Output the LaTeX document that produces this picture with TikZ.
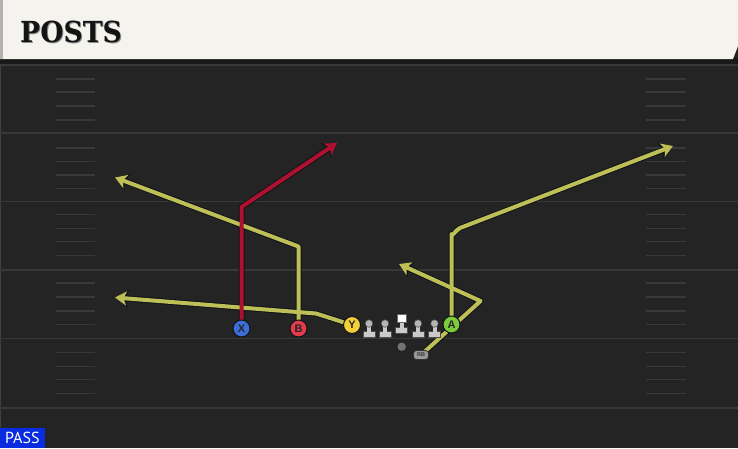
\documentclass[tikz,border=0pt]{standalone}
\usepackage{fontspec}
\setmainfont{Liberation Sans}
\newfontfamily\hdrfont{DejaVu Serif}
\newfontfamily\passfont{PT Sans}
\usetikzlibrary{arrows.meta}
\definecolor{field}{HTML}{242424}
\definecolor{yline}{HTML}{383838}
\definecolor{hashc}{HTML}{393939}
\definecolor{cream}{HTML}{F5F3EE}
\definecolor{routeY}{HTML}{BFBF57}
\definecolor{routeR}{HTML}{AE1030}
\definecolor{outl}{HTML}{101418}
\definecolor{pblue}{HTML}{3C6ED6}
\definecolor{pred}{HTML}{E23B4B}
\definecolor{pyel}{HTML}{F4D038}
\definecolor{pgreen}{HTML}{7BCB3C}
\definecolor{lmgrey}{HTML}{CACACA}
\definecolor{lmhead}{HTML}{B4B4B4}
\definecolor{passblue}{HTML}{0A2CE0}
\tikzset{
  hashmark/.style={draw=hashc, line width=1.4pt},
  yardline/.style={draw=yline, line width=1.8pt},
  routeunder/.style={draw=outl, line width=6pt, line join=round, -{Stealth[length=13.5pt,width=17pt,inset=3.5pt]}},
  routetop/.style={draw=#1, line width=4pt, line join=round, -{Stealth[length=11.5pt,width=14pt,inset=3pt]}},
  player/.style={circle, draw=outl, line width=1pt, fill=#1, minimum size=17pt, inner sep=0pt, font=\bfseries\fontsize{11}{11}\selectfont, text=black!85},
  rbtag/.style={draw=black!80, line width=0.8pt, fill=black!40, rounded corners=3pt, minimum width=15pt, minimum height=9pt, inner sep=0pt, font=\bfseries\fontsize{5.5}{5.5}\selectfont, text=black!80},
}
\begin{document}
\begin{tikzpicture}[x=1pt,y=-1pt]
\useasboundingbox (0,0) rectangle (738,448);
% field
\fill[field] (0,0) rectangle (738,448);
\fill[black!90] (0,58) rectangle (738,64);
\draw[black!75, line width=1pt] (0.5,64) -- (0.5,448);
% yard lines
\foreach \yy in {65,133,201.5,270,338.5,408}
  \draw[yardline] (0,\yy) -- (738,\yy);
% hash marks
\foreach \yy in {79,92,106,120,148,161.5,175,188.5,214.5,228.5,241.5,255.5,283,297,311,324.5,352.5,366.5,379.5,393.5}{
  \draw[hashmark] (56,\yy) -- (95,\yy);
  \draw[hashmark] (646,\yy) -- (686,\yy);
}
% header
\fill[cream] (0,0) -- (738,0) -- (738,46) -- (733,59) -- (0,59) -- cycle;
\fill[black!30] (0,0) rectangle (3,59);
\node[anchor=west, inner sep=0pt, text=black!45] (titleshadow) at (21,33) {\scalebox{0.92}[1]{\hdrfont\bfseries\fontsize{29}{29}\selectfont POSTS}};
\node[anchor=west, inner sep=0pt, text=black!92] (title) at (20,32) {\scalebox{0.92}[1]{\hdrfont\bfseries\fontsize{29}{29}\selectfont POSTS}};
% player positions
\coordinate (pX) at (241.5,328.5);
\coordinate (pB) at (298.5,328.5);
\coordinate (pY) at (352,325);
\coordinate (pA) at (451.5,324.5);
\coordinate (pRB) at (421,355);
% route waypoints and ends
\coordinate (xc) at (241.5,207);
\coordinate (xe) at (337,143);
\coordinate (bc) at (298.5,246.5);
\coordinate (be) at (115,177.5);
\coordinate (yc) at (316,313.5);
\coordinate (ye) at (115,297.5);
\coordinate (ac1) at (451.5,234);
\coordinate (ac2) at (460,228);
\coordinate (ae) at (673,146);
\coordinate (rc) at (480.5,301);
\coordinate (re) at (399,264);
% route outlines
\draw[routeunder] (pB) -- (bc) -- (be);
\draw[routeunder] (pY) -- (yc) -- (ye);
\draw[routeunder] (pA) -- (ac1) to[out=-90,in=200] (ac2) -- (ae);
\draw[routeunder] (pRB) -- (rc) -- (re);
\draw[routeunder] (pX) -- (xc) -- (xe);
% routes
\draw[routetop=routeY] (pB) -- (bc) -- (be);
\draw[routetop=routeY] (pY) -- (yc) -- (ye);
\draw[routetop=routeY] (pA) -- (ac1) to[out=-90,in=200] (ac2) -- (ae);
\draw[routetop=routeY] (pRB) -- (rc) -- (re);
\draw[routetop=routeR] (pX) -- (xc) -- (xe);
% linemen
\foreach \xx in {369,385,418,434.5}{
  \fill[lmgrey, draw=black!70, line width=0.5pt] (\xx-6,331.5) rectangle (\xx+6,337.5);
  \fill[lmgrey] (\xx-2,326) rectangle (\xx+2,332);
  \fill[lmhead, draw=black!70, line width=0.5pt] (\xx,323.5) circle (3.8);
}
\fill[lmgrey, draw=black!70, line width=0.5pt] (395.7,327.5) rectangle (407.7,333.5);
\fill[lmgrey] (399.7,322) rectangle (403.7,328);
\fill[white, draw=black!60, line width=0.5pt] (397.5,314) rectangle (405.9,322.3);
% QB dot
\fill[black!55] (401.7,346.7) circle (4.2);
% players
\node[player=pblue] (X) at (pX) {X};
\node[player=pred] (B) at (pB) {B};
\node[player=pyel] (Y) at (pY) {Y};
\node[player=pgreen] (A) at (pA) {A};
\node[rbtag] (RB) at (pRB) {RB};
% PASS label
\fill[passblue] (0,428) rectangle (45,448);
\node[anchor=base west, inner sep=0pt, text=white] (pass) at (5,443.5) {\passfont\fontsize{16}{16}\selectfont PASS};
\end{tikzpicture}
\end{document}
